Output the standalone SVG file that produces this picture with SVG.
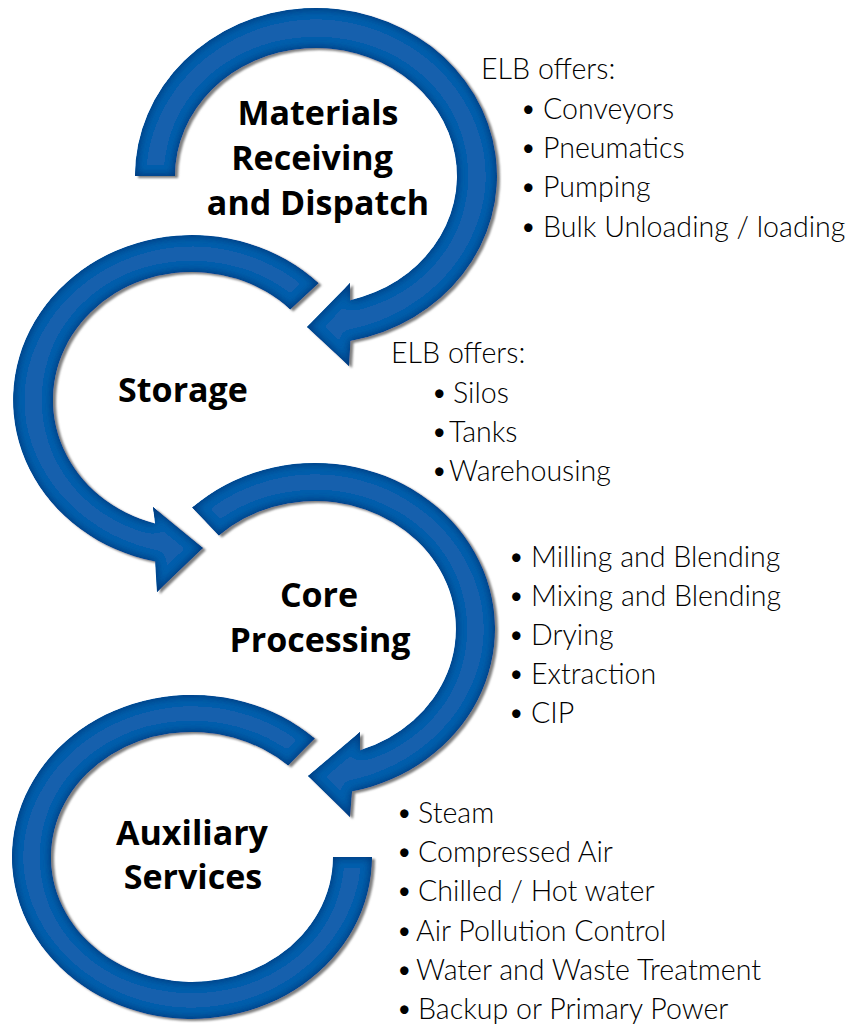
<svg xmlns="http://www.w3.org/2000/svg" width="852" height="1025" viewBox="0 0 852 1025">
<defs>
<style>
.ring{fill:#1460ad;filter:url(#bevel)}
.lbl{font-family:"Open Sans",Lato,"Liberation Sans",sans-serif;font-weight:700;font-size:34px;fill:#000;text-anchor:middle}
.lst{font-family:Lato,"Open Sans","Liberation Sans",sans-serif;font-weight:300;font-size:28.6px;fill:#000}
</style>
<filter id="bevel" x="-10%" y="-10%" width="125%" height="125%">
<feGaussianBlur in="SourceAlpha" stdDeviation="1" result="b"/>
<feOffset in="b" dx="3" dy="2" result="o"/>
<feFlood flood-color="#808080"/>
<feComposite in2="o" operator="in" result="shadow"/>
<feGaussianBlur in="SourceAlpha" stdDeviation="5" result="b2"/>
<feComposite in="SourceAlpha" in2="b2" operator="arithmetic" k2="1" k3="-1" result="edge"/>
<feFlood flood-color="#053c80"/>
<feComposite in2="edge" operator="in" result="dark"/>
<feMerge><feMergeNode in="shadow"/><feMergeNode in="SourceGraphic"/><feMergeNode in="dark"/><feMergeNode in="dark"/></feMerge>
</filter>
</defs>
<rect width="852" height="1025" fill="#fff"/>
<g id="connectors">
<path id="arrow-materials" class="ring" d="M135,176 A181,168 0 1 1 350.5,340.9 L349,366 L307,327 L350,283 L350.1,300.2 A141,128 0 1 0 175,176 Z"/>
<path id="arrow-storage" class="ring" d="M318.6,283.3 A179,165 0 1 0 155.1,561.5 L157,592 L203,548 L153,507 L155.1,523.4 A139,128 0 1 1 290.3,309.5 Z"/>
<path id="arrow-core" class="ring" d="M192.2,507.6 A180,166 0 1 1 352.1,791.4 L350,817 L308,776 L360,732 L360,750.3 A141,128 0 1 0 218.8,535.4 Z"/>
<path id="arc-auxiliary" class="ring" d="M314.8,738.5 A180,162 0 1 0 372,857 L333,857 A141,125 0 1 1 288.2,765.6 Z"/>
</g>
<g id="node-materials">
<text class="lbl" x="318" y="125">Materials</text>
<text class="lbl" x="312" y="170">Receiving</text>
<text class="lbl" x="318" y="215">and Dispatch</text>
<text class="lst" x="481" y="79">ELB offers:</text>
<text class="lst"><tspan x="520" y="119">•</tspan><tspan x="543">Conveyors</tspan></text>
<text class="lst"><tspan x="520" y="158">•</tspan><tspan x="543">Pneumatics</tspan></text>
<text class="lst"><tspan x="520" y="197">•</tspan><tspan x="543">Pumping</tspan></text>
<text class="lst"><tspan x="520" y="237">•</tspan><tspan x="543">Bulk Unloading / loading</tspan></text>
</g>
<g id="node-storage">
<text class="lbl" x="183" y="402">Storage</text>
<text class="lst" x="391" y="363">ELB offers:</text>
<text class="lst"><tspan x="431" y="403">•</tspan><tspan x="453">Silos</tspan></text>
<text class="lst"><tspan x="431" y="442">•</tspan><tspan x="449">Tanks</tspan></text>
<text class="lst"><tspan x="431" y="481">•</tspan><tspan x="449">Warehousing</tspan></text>
</g>
<g id="node-core">
<text class="lbl" x="319" y="607">Core</text>
<text class="lbl" x="320" y="652">Processing</text>
<text class="lst"><tspan x="508" y="567">•</tspan><tspan x="531">Milling and Blending</tspan></text>
<text class="lst"><tspan x="508" y="606">•</tspan><tspan x="531">Mixing and Blending</tspan></text>
<text class="lst"><tspan x="508" y="645">•</tspan><tspan x="531">Drying</tspan></text>
<text class="lst"><tspan x="508" y="684">•</tspan><tspan x="531">Extraction</tspan></text>
<text class="lst"><tspan x="508" y="723">•</tspan><tspan x="531">CIP</tspan></text>
</g>
<g id="node-auxiliary">
<text class="lbl" x="192" y="845">Auxiliary</text>
<text class="lbl" x="193" y="889">Services</text>
<text class="lst"><tspan x="396" y="823">•</tspan><tspan x="418">Steam</tspan></text>
<text class="lst"><tspan x="396" y="862">•</tspan><tspan x="418">Compressed Air</tspan></text>
<text class="lst"><tspan x="396" y="901">•</tspan><tspan x="418">Chilled / Hot water</tspan></text>
<text class="lst"><tspan x="396" y="941">•</tspan><tspan x="416">Air Pollution Control</tspan></text>
<text class="lst"><tspan x="396" y="980">•</tspan><tspan x="416">Water and Waste Treatment</tspan></text>
<text class="lst"><tspan x="396" y="1019">•</tspan><tspan x="418">Backup or Primary Power</tspan></text>
</g>
</svg>
